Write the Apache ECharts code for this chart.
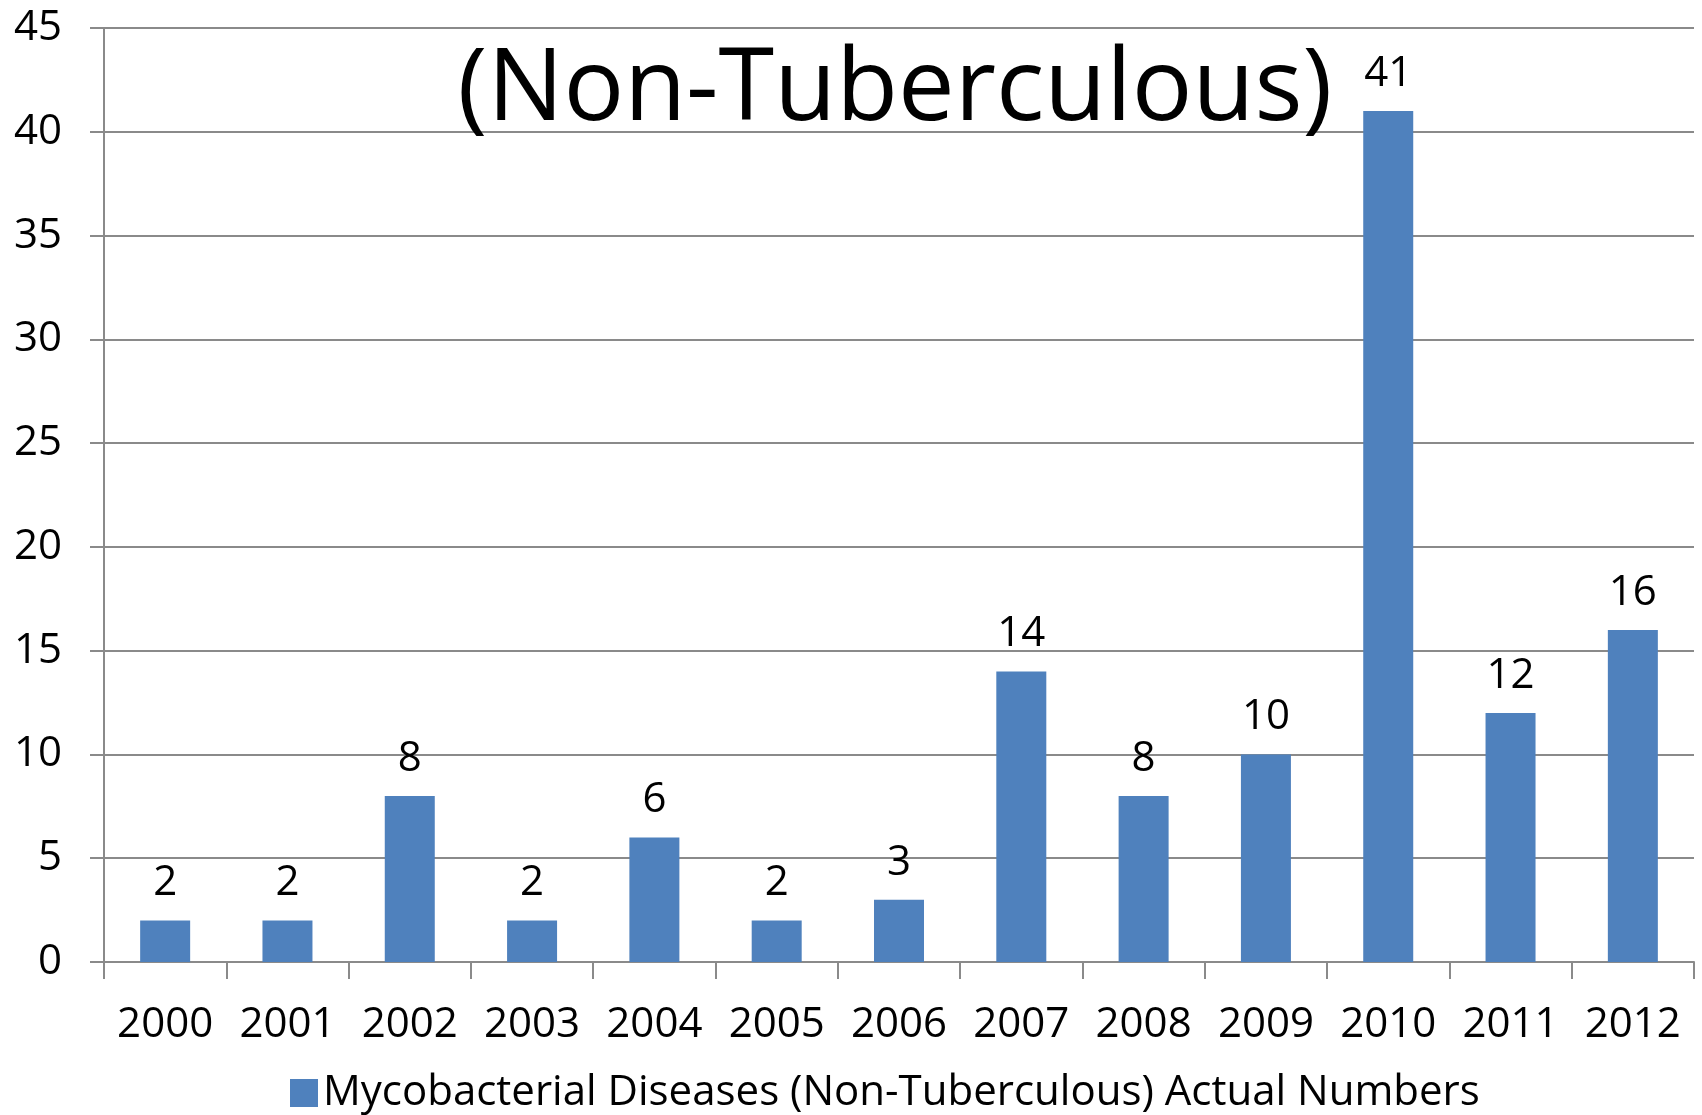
<!DOCTYPE html>
<html lang="en">
<head>
    <meta charset="utf-8"/>
    <script src="https://cdn.jsdelivr.net/npm/echarts@6/dist/echarts.min.js"></script>
</head>
<body style="margin: 0; background: #fff">
<div id="container" style="width: 1702px; height: 1115px;"></div>
<script type="text/javascript">
    // data
    var years = ['2000', '2001', '2002', '2003', '2004', '2005', '2006',
                 '2007', '2008', '2009', '2010', '2011', '2012'];
    var actualNumbers = [2, 2, 8, 2, 6, 2, 3, 14, 8, 10, 41, 12, 16];
    var seriesName = 'Mycobacterial Diseases (Non-Tuberculous) Actual Numbers';
    var titleText = '(Non-Tuberculous)';

    var myChart = echarts.init(document.getElementById('container'));
    var font = '"Open Sans", sans-serif';
    var gray = '#8a8a8a';

    var option = {
        animation: false,
        textStyle: {fontFamily: font},
        title: {
            text: titleText,
            left: 890,
            textAlign: 'center',
            top: 36,
            textStyle: {fontFamily: font, fontSize: 101, fontWeight: 'normal', color: '#000'}
        },
        legend: {
            data: [seriesName],
            icon: 'rect',
            bottom: -4,
            left: 285,
            itemWidth: 28,
            itemHeight: 28,
            itemGap: 10,
            textStyle: {fontFamily: font, fontSize: 42, color: '#000'}
        },
        grid: {left: 104, right: 8, top: 28, bottom: 153, containLabel: false},
        xAxis: {
            type: 'category',
            data: years,
            axisLine: {lineStyle: {color: gray, width: 2}},
            axisTick: {show: true, interval: 0, length: 17, lineStyle: {color: gray, width: 2}},
            axisLabel: {interval: 0, fontFamily: font, fontSize: 42, color: '#000', margin: 42}
        },
        yAxis: {
            type: 'value',
            min: 0,
            max: 45,
            interval: 5,
            axisLine: {show: true, lineStyle: {color: gray, width: 2}},
            axisTick: {show: true, length: 14, lineStyle: {color: gray, width: 2}},
            axisLabel: {fontFamily: font, fontSize: 42, color: '#000', margin: 42},
            splitLine: {lineStyle: {color: gray, width: 2}}
        },
        series: [
            {
                name: seriesName,
                type: 'bar',
                data: actualNumbers,
                barWidth: 50,
                itemStyle: {color: '#4F81BD'},
                label: {
                    show: true,
                    position: 'top',
                    distance: 16,
                    fontFamily: font,
                    fontSize: 42,
                    color: '#000'
                }
            }
        ]
    };

    myChart.setOption(option);
</script>
</body>
</html>
